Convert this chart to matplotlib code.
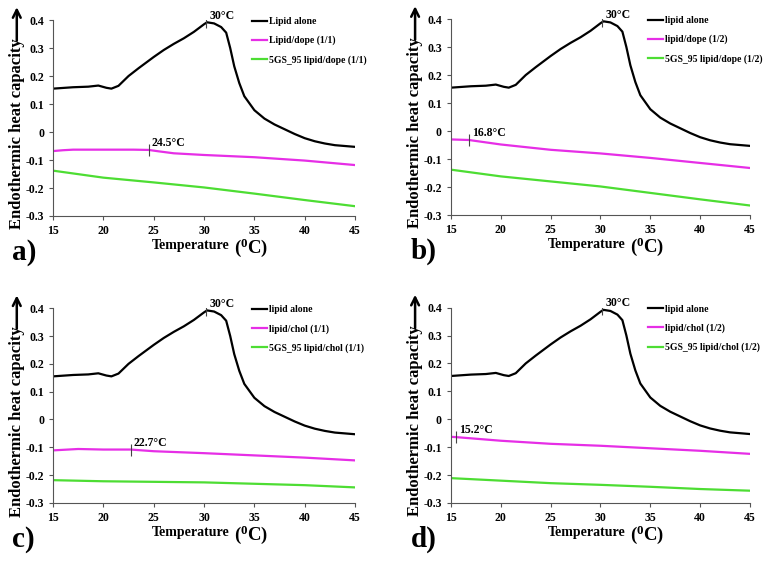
import numpy as np
import matplotlib
matplotlib.use("Agg")
import matplotlib.pyplot as plt

plt.rcParams["font.family"] = ["Liberation Serif", "DejaVu Serif"]
plt.rcParams["font.weight"] = "bold"
plt.rcParams["mathtext.fontset"] = "custom"
plt.rcParams["mathtext.rm"] = "Liberation Serif:bold"
plt.rcParams["mathtext.bf"] = "Liberation Serif:bold"
plt.rcParams["mathtext.default"] = "bf"

# lipid alone curve (same in all four panels)
black_t = [15, 17, 18.5, 19.5, 20.3, 20.8, 21.5, 22.5, 23.5, 25, 26, 27, 28, 29, 30,
           30.3, 31, 31.7, 32.2, 32.6, 33, 33.5, 34, 35, 36, 37, 38, 39, 40, 41,
           42, 43, 44, 45]
black_v = [0.155, 0.16, 0.162, 0.166, 0.158, 0.155, 0.165, 0.2, 0.228, 0.268, 0.293,
           0.315, 0.335, 0.358, 0.385, 0.392, 0.388, 0.375, 0.355, 0.3, 0.235, 0.175,
           0.128, 0.078, 0.048, 0.027, 0.01, -0.007, -0.022, -0.033, -0.041, -0.047,
           -0.05, -0.053]

green_t = [15, 20, 25, 30, 35, 40, 45]

# panel a
mag_a_t = [15, 16, 17, 20, 23, 24.5, 25.5, 27, 30, 35, 40, 45]
mag_a_v = [-0.068, -0.065, -0.063, -0.063, -0.063, -0.064, -0.069, -0.076, -0.082,
           -0.09, -0.102, -0.118]
green_a_v = [-0.138, -0.163, -0.18, -0.198, -0.22, -0.243, -0.265]

# panel b
mag_b_t = [15, 16.8, 18, 20, 25, 30, 35, 40, 45]
mag_b_v = [-0.03, -0.032, -0.038, -0.048, -0.067, -0.08, -0.096, -0.114, -0.132]
green_b_v = [-0.138, -0.162, -0.18, -0.198, -0.221, -0.244, -0.266]

# panel c
mag_c_t = [15, 17.5, 20, 22.7, 25, 30, 35, 40, 45]
mag_c_v = [-0.111, -0.106, -0.108, -0.108, -0.114, -0.121, -0.129, -0.137, -0.147]
green_c_v = [-0.218, -0.222, -0.224, -0.226, -0.231, -0.236, -0.244]

# panel d
mag_d_t = [15, 15.5, 20, 25, 30, 35, 40, 45]
mag_d_v = [-0.063, -0.064, -0.077, -0.088, -0.095, -0.104, -0.113, -0.124]
green_d_v = [-0.211, -0.22, -0.229, -0.235, -0.242, -0.25, -0.256]

peak_t = 30.2
trans_temps = [24.5, 16.8, 22.7, 15.5]
trans_labels = ["24.5°C", "16.8°C", "22.7°C", "15.2°C"]
panel_letters = ["a)", "b)", "c)", "d)"]
legend_labels = [
    ["Lipid alone", "Lipid/dope (1/1)", "5GS_95 lipid/dope (1/1)"],
    ["lipid alone", "lipid/dope (1/2)", "5GS_95 lipid/dope (1/2)"],
    ["lipid alone", "lipid/chol (1/1)", "5GS_95 lipid/chol (1/1)"],
    ["lipid alone", "lipid/chol (1/2)", "5GS_95 lipid/chol (1/2)"],
]
mag_t = [mag_a_t, mag_b_t, mag_c_t, mag_d_t]
mag_v = [mag_a_v, mag_b_v, mag_c_v, mag_d_v]
green_v = [green_a_v, green_b_v, green_c_v, green_d_v]

fig = plt.figure(figsize=(7.73, 5.78), dpi=100)
positions = [
    [0.0686, 0.6263, 0.3907, 0.339],
    [0.5834, 0.6280, 0.3868, 0.339],
    [0.0686, 0.1298, 0.3907, 0.337],
    [0.5834, 0.1298, 0.3868, 0.338],
]

for i in range(4):
    ax = fig.add_axes(positions[i])
    ax.plot(black_t, black_v, color="black", lw=1.6, label=legend_labels[i][0])
    ax.plot(mag_t[i], mag_v[i], color="#e62ee6", lw=1.6, label=legend_labels[i][1])
    ax.plot(green_t, green_v[i], color="#4ddd33", lw=1.6, label=legend_labels[i][2])

    ax.set_xlim(15, 45)
    ax.set_ylim(-0.3, 0.4)
    ax.set_xticks([15, 20, 25, 30, 35, 40, 45])
    yt = np.round(np.arange(-0.3, 0.41, 0.1), 1)
    ax.set_yticks(yt)
    ax.set_yticklabels(["%g" % v for v in yt])
    ax.tick_params(labelsize=8.5, length=3, width=0.8, color="#555555")
    for s in ["top", "right"]:
        ax.spines[s].set_visible(False)
    for s in ["left", "bottom"]:
        ax.spines[s].set_color("#555555")
        ax.spines[s].set_linewidth(0.8)

    # peak marker and label
    pv = np.interp(peak_t, black_t, black_v)
    ax.plot([peak_t], [pv], marker="|", color="#444444", ms=7, mew=0.8)
    ax.text(peak_t + 0.3, 0.415, "30°C", fontsize=8.5, ha="left", va="center")

    # transition marker and label
    tt = trans_temps[i]
    tv = np.interp(tt, mag_t[i], mag_v[i])
    ax.plot([tt], [tv], marker="|", color="#444444", ms=9, mew=0.8)
    ax.text(tt + 0.3, tv + 0.025, trans_labels[i], fontsize=8.5, ha="left", va="center")

    ax.legend(loc="upper left", bbox_to_anchor=(0.645, 1.035), frameon=False,
              fontsize=7, handlelength=1.6, handletextpad=0.2, labelspacing=1.0,
              borderaxespad=0)

    # axis labels
    ax.text(-0.12, 0.42, "Endothermic heat capacity", transform=ax.transAxes,
            rotation=90, fontsize=12, ha="center", va="center")
    ax.annotate("", xy=(-0.12, 1.08), xycoords="axes fraction",
                xytext=(-0.12, 0.88), textcoords="axes fraction",
                arrowprops=dict(arrowstyle="->", lw=1.8, color="black",
                                mutation_scale=14))
    ax.text(0.455, -0.15, "Temperature", transform=ax.transAxes,
            fontsize=10, ha="center", va="center")
    ax.text(0.655, -0.162, "($^{0}$C)", transform=ax.transAxes,
            fontsize=13.5, ha="center", va="center")
    ax.text(-0.135, -0.185, panel_letters[i], transform=ax.transAxes,
            fontsize=21, ha="left", va="center")

fig.savefig("out.png", dpi=100)
